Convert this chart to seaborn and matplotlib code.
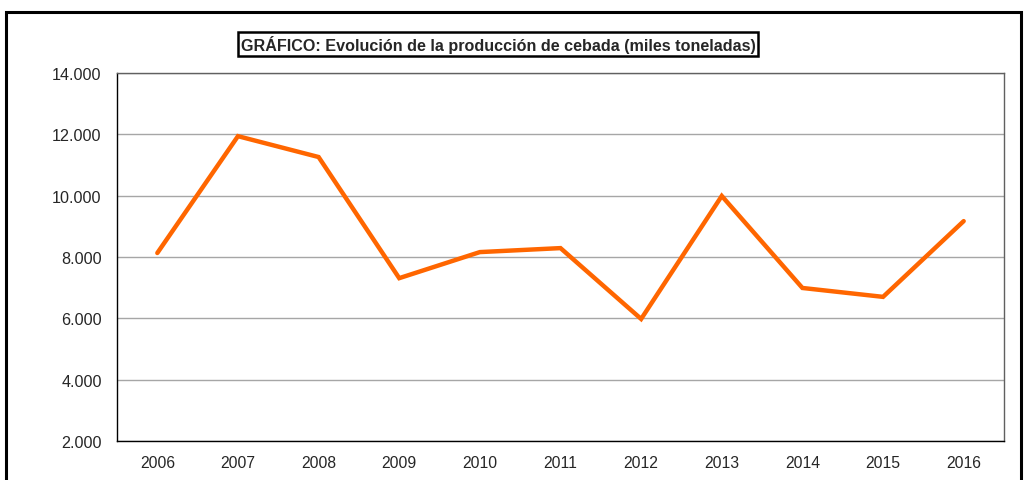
import matplotlib
matplotlib.use('Agg')
import matplotlib.pyplot as plt
import matplotlib.ticker as mticker
from matplotlib.patches import Rectangle
import pandas as pd
import seaborn as sns

# data (miles toneladas)
years = ['2006', '2007', '2008', '2009', '2010', '2011', '2012', '2013', '2014', '2015', '2016']
produccion = [8130, 11940, 11260, 7310, 8160, 8290, 5980, 9990, 6990, 6700, 9170]
y_ticks = [2000, 4000, 6000, 8000, 10000, 12000, 14000]
title = 'GRÁFICO: Evolución de la producción de cebada (miles toneladas)'

df = pd.DataFrame({'year': years, 'value': produccion})

sns.set_style('white')
plt.rcParams['font.family'] = ['Liberation Sans', 'DejaVu Sans']

fig = plt.figure(figsize=(10.26, 4.81), dpi=100)
ax = fig.add_axes([117 / 1026, 1 - 442 / 481, (1004 - 117) / 1026, (442 - 74) / 481])

sns.lineplot(data=df, x='year', y='value', ax=ax, color='#FF6600', linewidth=3.2,
             solid_capstyle='round', solid_joinstyle='miter', sort=False)

ax.set_xlim(-0.5, len(years) - 0.5)
ax.set_ylim(y_ticks[0], y_ticks[-1])
ax.set_yticks(y_ticks)
ax.yaxis.set_major_formatter(mticker.FuncFormatter(lambda v, p: f'{int(v):,}'.replace(',', '.')))
ax.grid(axis='y', color='#a6a6a6', linewidth=1)
ax.set_axisbelow(True)

# Excel-style ticks between categories
ax.set_xticks(range(len(years)))
ax.set_xticklabels(years)
ax.set_xticks([i - 0.5 for i in range(len(years) + 1)], minor=True)
ax.tick_params(axis='x', which='major', length=0, pad=10, labelsize=11.3)
ax.tick_params(axis='x', which='minor', length=5, width=1, color='black', direction='out')
ax.tick_params(axis='y', length=5, width=1, color='black', direction='out', labelsize=11.6, pad=6)
ax.set_xlabel('')
ax.set_ylabel('')

for s in ax.spines.values():
    s.set_color('black')
    s.set_linewidth(1)
ax.spines['top'].set_color('#606060')
ax.spines['right'].set_color('#606060')

# title in a box
fig.text(498 / 1026, 1 - 45 / 481, title, ha='center', va='center', fontsize=11.6,
         fontweight='bold',
         bbox=dict(boxstyle='square,pad=0.18', fc='white', ec='black', lw=1.8))

# outer chart frame (cut off at the bottom)
frame = Rectangle((6 / 1026, -0.1), (1021 - 6) / 1026, 1.1 - 13 / 481,
                  transform=fig.transFigure, fill=False, ec='black', lw=2.2, clip_on=False)
fig.patches.append(frame)

fig.savefig('out.png', dpi=100)
